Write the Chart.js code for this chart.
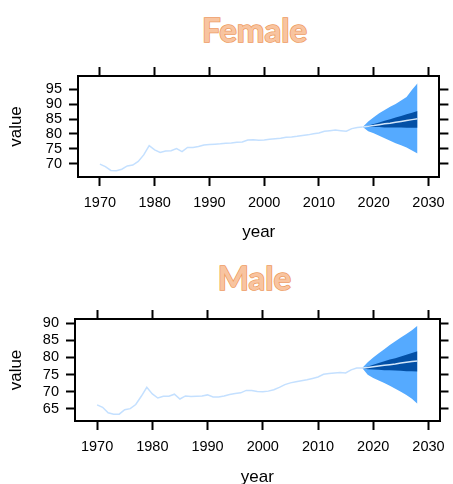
<!DOCTYPE html>
<html>
<head>
<meta charset="utf-8">
<script src="https://cdn.jsdelivr.net/npm/chart.js@4.4.1/dist/chart.umd.min.js"></script>
<style>
  html, body { margin: 0; padding: 0; background: #fff; }
  body { width: 453px; height: 484px; position: relative; overflow: hidden; }
  .title {
    position: absolute; left: 28px; width: 453px; text-align: center;
    font-family: Lato, "Open Sans", sans-serif; font-weight: 700; font-size: 33px;
    color: #F8C4A0; -webkit-text-stroke: 1.5px #EE9A5E; paint-order: stroke fill;
    line-height: 1;
  }
  .box { position: absolute; left: 0; width: 453px; }
</style>
</head>
<body>
<div class="title" style="top:13px">Female</div>
<div class="box" style="top:60px; height:186px"><canvas id="femaleChart"></canvas></div>
<div class="title" style="top:261px">Male</div>
<div class="box" style="top:303px; height:188px"><canvas id="maleChart"></canvas></div>
<script>
// observed years and forecast horizon
const years = [];
for (let y = 1970; y <= 2018; y++) years.push(y);
const forecastYears = [2018, 2019, 2020, 2021, 2022, 2023, 2024, 2025, 2026, 2027, 2028];

const xTicks = [1970, 1980, 1990, 2000, 2010, 2020, 2030];
const femaleYTicks = [70, 75, 80, 85, 90, 95];
const maleYTicks = [65, 70, 75, 80, 85, 90];

const femaleValues = [
  69.9, 69.1, 67.8, 67.7, 68.2, 69.3, 69.6, 70.8, 73.0, 76.1,
  74.7, 73.8, 74.3, 74.4, 75.1, 74.1, 75.5, 75.5, 75.8, 76.3,
  76.5, 76.6, 76.7, 76.9, 77.0, 77.2, 77.3, 78.0, 78.1, 77.9,
  78.0, 78.2, 78.4, 78.6, 78.9, 79.0, 79.2, 79.5, 79.7, 80.1,
  80.3, 80.9, 81.1, 81.3, 81.1, 80.9, 81.8, 82.2, 82.3
];
const femaleMean  = [82.3, 82.6, 82.8, 83.1, 83.4, 83.6, 83.9, 84.2, 84.5, 84.8, 85.1];
const femaleHi80  = [82.3, 82.8, 83.3, 83.8, 84.4, 84.9, 85.5, 86.0, 86.6, 87.1, 87.7];
const femaleLo80  = [82.3, 82.3, 82.3, 82.3, 82.2, 82.2, 82.2, 82.2, 82.1, 82.1, 82.1];
const femaleHi95  = [82.3, 84.2, 85.6, 86.9, 88.0, 89.1, 90.0, 91.2, 92.4, 94.8, 97.0];
const femaleLo95  = [82.3, 80.9, 80.2, 79.4, 78.6, 77.7, 76.9, 76.2, 75.5, 74.5, 73.5];

const maleValues = [
  66.2, 65.5, 63.9, 63.5, 63.5, 64.8, 65.1, 66.3, 68.7, 71.3,
  69.4, 68.2, 68.7, 68.7, 69.3, 67.9, 68.8, 68.6, 68.7, 68.8,
  69.1, 68.5, 68.5, 68.8, 69.2, 69.5, 69.7, 70.4, 70.4, 70.1,
  70.0, 70.2, 70.6, 71.3, 72.1, 72.6, 72.9, 73.2, 73.5, 73.9,
  74.3, 75.1, 75.3, 75.5, 75.6, 75.5, 76.4, 76.9, 76.9
];
const maleMean  = [76.9, 77.1, 77.3, 77.5, 77.7, 77.9, 78.1, 78.4, 78.6, 78.8, 79.0];
const maleHi80  = [76.9, 77.4, 77.9, 78.4, 78.9, 79.4, 79.8, 80.3, 80.8, 81.3, 81.8];
const maleLo80  = [76.9, 76.6, 76.5, 76.4, 76.3, 76.3, 76.2, 76.1, 76.0, 76.0, 75.9];
const maleHi95  = [76.9, 78.6, 80.0, 81.2, 82.4, 83.6, 84.7, 85.8, 86.8, 87.9, 89.2];
const maleLo95  = [76.9, 75.0, 74.0, 73.3, 72.6, 71.8, 70.9, 70.0, 69.1, 68.0, 66.5];

const tickFont = { family: 'Arial, "Liberation Sans", sans-serif', size: 14.5 };
const titleFont = { family: 'Arial, "Liberation Sans", sans-serif', size: 17 };

function pts(xs, ys) {
  return xs.map((x, i) => ({ x: x, y: ys[i] }));
}

function edgeScale(position, ticks, extra) {
  return Object.assign({
    type: 'linear',
    position: position,
    afterBuildTicks: s => { s.ticks = ticks.map(v => ({ value: v })); },
    grid: { drawOnChartArea: false, tickLength: 9, tickWidth: 2, tickColor: '#000' },
    border: { display: true, width: 2, color: '#000' },
    ticks: { display: false }
  }, extra);
}

function makeChart(id, opt) {
  const band = (data, color) => ({
    data: data, borderWidth: 0, pointRadius: 0, backgroundColor: color, fill: false
  });
  new Chart(document.getElementById(id), {
    type: 'line',
    data: {
      datasets: [
        { data: pts(forecastYears, opt.mean), borderColor: '#D2E6FA', borderWidth: 1.5, pointRadius: 0, fill: false },
        { data: pts(years, opt.values), borderColor: '#C4E0FF', borderWidth: 1.5, pointRadius: 0, fill: false },
        Object.assign(band(pts(forecastYears, opt.hi80), '#0350A6'), { fill: '+1' }),
        band(pts(forecastYears, opt.lo80), '#0350A6'),
        Object.assign(band(pts(forecastYears, opt.hi95), '#55AAFF'), { fill: '+1' }),
        band(pts(forecastYears, opt.lo95), '#55AAFF')
      ]
    },
    options: {
      responsive: true,
      maintainAspectRatio: false,
      animation: false,
      layout: { padding: 0 },
      plugins: { legend: { display: false }, tooltip: { enabled: false } },
      elements: { line: { tension: 0 } },
      scales: {
        x: edgeScale('bottom', xTicks, {
          min: 1966, max: 2032,
          ticks: { display: true, color: '#000', font: tickFont, padding: 8, maxRotation: 0,
                   autoSkip: false, callback: v => String(v) },
          title: { display: true, text: 'year', color: '#000', font: titleFont,
                   padding: { top: 0, bottom: opt.yearPad } },
          afterFit: s => { s.height = opt.bottomH; }
        }),
        x2: edgeScale('top', xTicks, {
          min: 1966, max: 2032,
          afterFit: s => { s.height = opt.topH; }
        }),
        y: edgeScale('left', opt.yTicks, {
          min: opt.yMin, max: opt.yMax,
          ticks: { display: true, color: '#000', font: tickFont, padding: 7,
                   autoSkip: false, callback: v => String(v) },
          title: { display: true, text: 'value', color: '#000', font: titleFont,
                   padding: { top: 6, bottom: 0 } },
          afterFit: s => { s.width = opt.leftW; }
        }),
        y2: edgeScale('right', opt.yTicks, {
          min: opt.yMin, max: opt.yMax,
          afterFit: s => { s.width = 453 - opt.rightX; }
        })
      }
    }
  });
}

makeChart('femaleChart', {
  values: femaleValues, mean: femaleMean, hi80: femaleHi80, lo80: femaleLo80,
  hi95: femaleHi95, lo95: femaleLo95,
  yTicks: femaleYTicks, yMin: 65.6, yMax: 99.4,
  topH: 16, bottomH: 69, leftW: 78, rightX: 446, yearPad: 3
});

makeChart('maleChart', {
  values: maleValues, mean: maleMean, hi80: maleHi80, lo80: maleLo80,
  hi95: maleHi95, lo95: maleLo95,
  yTicks: maleYTicks, yMin: 61.5, yMax: 91.2,
  topH: 16, bottomH: 70, leftW: 75, rightX: 445, yearPad: 3
});
</script>
</body>
</html>
